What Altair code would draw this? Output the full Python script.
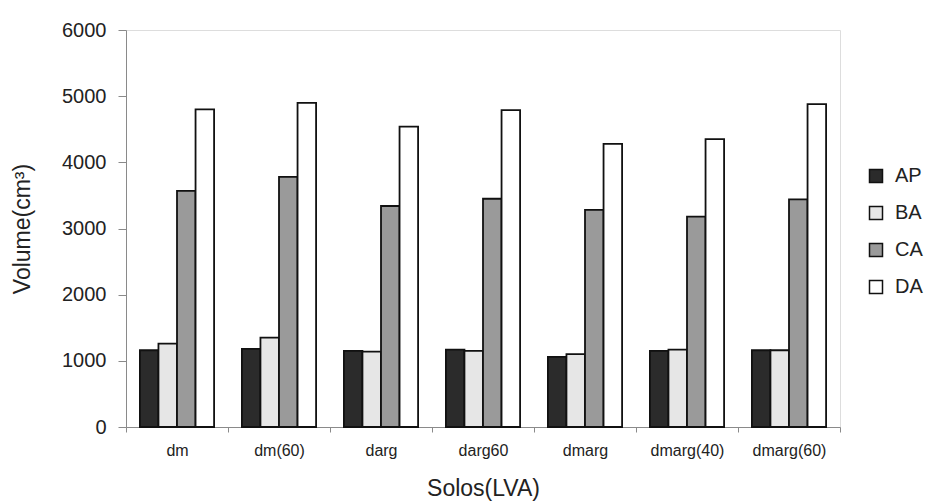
import altair as alt
import pandas as pd

# Soil samples and the four volume series (cm³)
solos = ["dm", "dm(60)", "darg", "darg60", "dmarg", "dmarg(40)", "dmarg(60)"]
series = ["AP", "BA", "CA", "DA"]
ap = [1160, 1180, 1150, 1170, 1060, 1150, 1160]
ba = [1260, 1350, 1140, 1150, 1100, 1170, 1160]
ca = [3570, 3780, 3340, 3450, 3280, 3180, 3440]
da = [4800, 4900, 4540, 4790, 4280, 4350, 4880]
y_ticks = [0, 1000, 2000, 3000, 4000, 5000, 6000]

rows = []
for name, vals in zip(series, [ap, ba, ca, da]):
    for solo, v in zip(solos, vals):
        rows.append({"Solo": solo, "Serie": name, "Volume": v})
df = pd.DataFrame(rows)

fills = ["#2b2b2b", "#e6e6e6", "#9a9a9a", "#ffffff"]
font = "Liberation Sans"

bars = alt.Chart(df).mark_bar(stroke="#111111", strokeWidth=1.8).encode(
    x=alt.X(
        "Solo:N",
        sort=solos,
        scale=alt.Scale(paddingInner=0, paddingOuter=0),
        axis=alt.Axis(
            title="Solos(LVA)",
            labelAngle=0,
            tickBand="extent",
            tickSize=5,
            labelPadding=10,
            labelFontSize=16,
            labelColor="#222222",
            titleFontSize=23,
            titleFontWeight="normal",
            titleColor="#222222",
            titleBaseline="alphabetic",
            titleY=68,
            domainColor="#8a8a8a",
            tickColor="#8a8a8a",
            labelFont=font,
            titleFont=font,
        ),
    ),
    xOffset=alt.XOffset(
        "Serie:N",
        sort=series,
        scale=alt.Scale(paddingInner=0, paddingOuter=0.75),
    ),
    y=alt.Y(
        "Volume:Q",
        scale=alt.Scale(domain=[0, 6000], nice=False),
        axis=alt.Axis(
            title="Volume(cm³)",
            values=y_ticks,
            format="d",
            grid=False,
            tickSize=8,
            labelPadding=12,
            labelFontSize=20,
            labelColor="#222222",
            titleFontSize=23,
            titleFontWeight="normal",
            titleColor="#222222",
            titleBaseline="bottom",
            titleX=-92,
            domainColor="#8a8a8a",
            tickColor="#8a8a8a",
            labelFont=font,
            titleFont=font,
        ),
    ),
    color=alt.Color(
        "Serie:N",
        sort=series,
        scale=alt.Scale(domain=series, range=fills),
        legend=alt.Legend(
            title=None,
            orient="none",
            legendX=740,
            legendY=136,
            symbolType="square",
            symbolSize=169,
            symbolStrokeColor="#111111",
            symbolStrokeWidth=1.5,
            symbolOpacity=1,
            labelFontSize=20,
            labelFont=font,
            labelColor="#222222",
            labelOffset=9,
            rowPadding=17,
            padding=0,
        ),
    ),
)

chart = bars.properties(
    width=714,
    height=397,
    autosize=alt.AutoSizeParams(type="none"),
    padding={"left": 126, "top": 30, "right": 88, "bottom": 75},
).configure_view(stroke=None).configure(background="white")

chart.save("out.html", embed_options={"renderer": "svg", "actions": False})
